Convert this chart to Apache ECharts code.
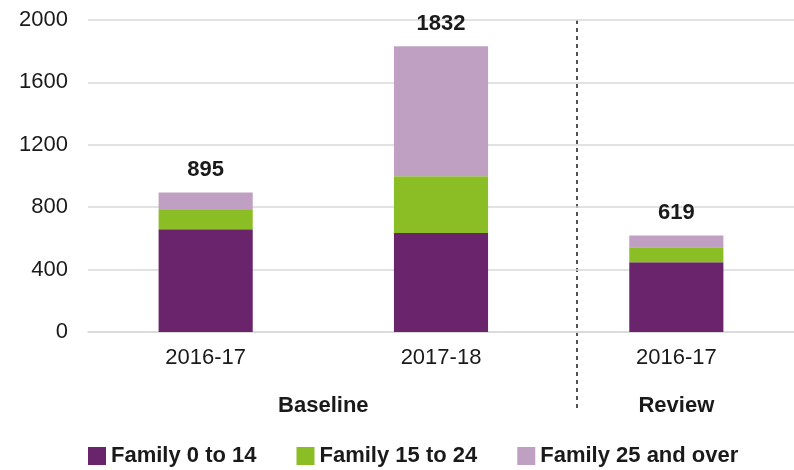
<!DOCTYPE html>
<html><head><meta charset="utf-8">
<script src="https://cdn.jsdelivr.net/npm/echarts@6/dist/echarts.min.js"></script>
<style>html,body{margin:0;padding:0;background:#fff}#c{width:794px;height:470px}</style>
</head><body><div id="c"></div>
<script>
const categories = ['2016-17', '2017-18', '2016-17'];
const groups = ['Baseline', 'Review'];
const groupPositions = [1, 2.5];
const family0to14 = [658, 634, 447];
const family15to24 = [124, 364, 96];
const family25over = [113, 834, 76];
const totals = [895, 1832, 619];

const FONT = 'Liberation Sans';
const chart = echarts.init(document.getElementById('c'));
const colors = ['#69246B', '#8BBD24', '#BFA0C2'];
const names = ['Family 0 to 14', 'Family 15 to 24', 'Family 25 and over'];
const data = [family0to14, family15to24, family25over];

chart.setOption({
  animation: false,
  textStyle: { fontFamily: FONT },
  grid: { left: 88, top: 20, width: 709, height: 312, containLabel: false },
  legend: {
    left: 83, top: 440, itemWidth: 18, itemHeight: 18, itemGap: 40,
    icon: 'rect',
    textStyle: { fontSize: 22, fontWeight: 'bold', color: '#1a1a1a', fontFamily: FONT },
    data: names
  },
  xAxis: [{
    type: 'category', data: categories,
    axisLine: { show: true, lineStyle: { color: '#d9d9d9', width: 1.5 } },
    axisTick: { show: false },
    axisLabel: { fontSize: 22, color: '#1a1a1a', margin: 15 }
  }, {
    type: 'value', min: 0, max: 3, position: 'bottom', offset: 55,
    axisLine: { show: false }, axisTick: { show: false }, splitLine: { show: false },
    axisLabel: {
      customValues: groupPositions, fontSize: 22, fontWeight: 'bold', color: '#1a1a1a',
      formatter: v => groups[groupPositions.indexOf(v)]
    }
  }],
  yAxis: {
    type: 'value', min: 0, max: 2000, interval: 400,
    axisLine: { show: false }, axisTick: { show: false },
    axisLabel: { fontSize: 22, color: '#1a1a1a', margin: 20, formatter: v => String(v) },
    splitLine: { lineStyle: { color: '#d9d9d9', width: 1.5 } }
  },
  series: data.map((d, i) => ({
    name: names[i], type: 'bar', stack: 'total', data: d, barWidth: '40%',
    itemStyle: { color: colors[i] },
    label: i === 2 ? {
      show: true, position: 'top', distance: 11,
      fontSize: 22, fontWeight: 'bold', color: '#1a1a1a',
      formatter: p => totals[p.dataIndex]
    } : { show: false }
  })),
  graphic: [{
    type: 'line', shape: { x1: 577, y1: 20, x2: 577, y2: 410 },
    style: { stroke: '#1a1a1a', lineWidth: 1.5, lineDash: [4, 4] }
  }]
});
</script></body></html>
